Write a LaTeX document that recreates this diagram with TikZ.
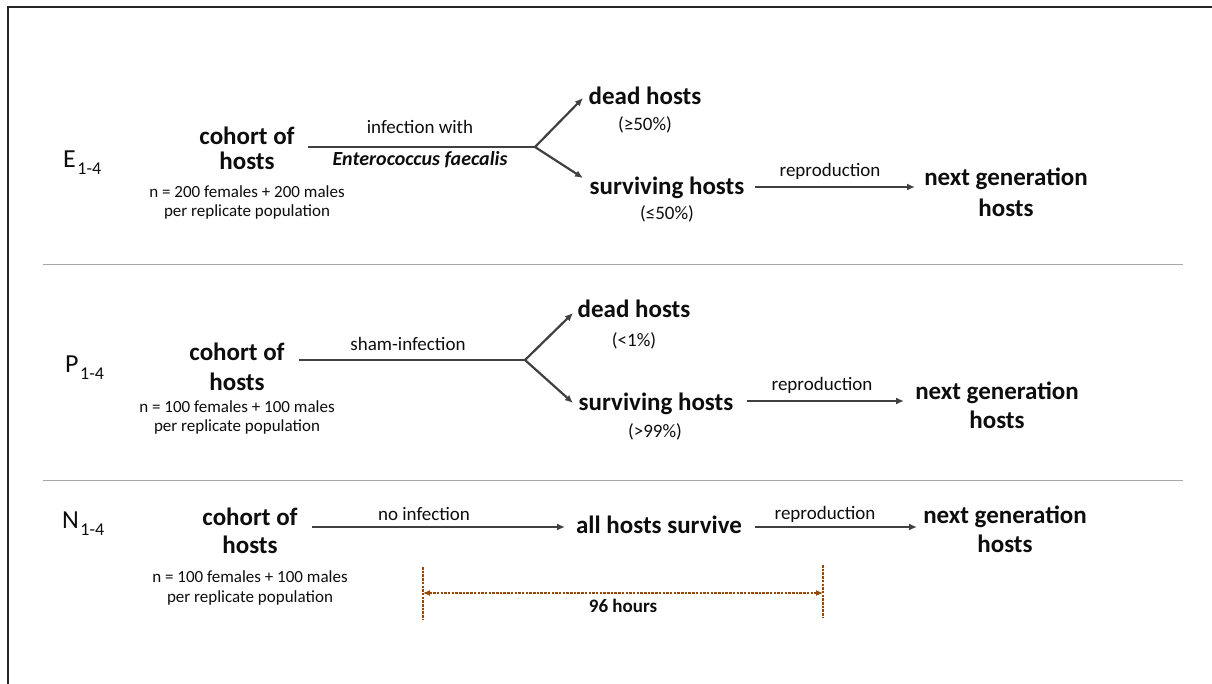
\documentclass[tikz,border=0pt]{standalone}
\usepackage{fontspec}
\setmainfont{Carlito}
\usetikzlibrary{arrows.meta}
\definecolor{arrowgrey}{HTML}{404040}
\definecolor{sepgrey}{HTML}{A6A6A6}
\definecolor{framegrey}{HTML}{262626}
\definecolor{txt}{HTML}{0D0D0D}
\definecolor{brownline}{RGB}{152,72,6}
\newcommand{\rowsub}[2]{#1\kern1.5pt\raisebox{-7pt}{\fontsize{18}{18}\selectfont #2}}
\begin{document}
\begin{tikzpicture}[x=1pt,y=-1pt,
  big/.style={font=\fontsize{25}{25}\selectfont\bfseries, anchor=base, inner sep=0pt, text=txt},
  small/.style={font=\fontsize{17}{17}\selectfont, anchor=base, inner sep=0pt, text=txt},
  lab/.style={font=\fontsize{19}{19}\selectfont, anchor=base, inner sep=0pt, text=txt},
  rowlab/.style={font=\fontsize{26}{26}\selectfont, anchor=base west, inner sep=0pt, text=txt},
  conn/.style={draw=arrowgrey, line width=2.2pt},
  arr/.style={conn, -{Latex[length=8pt,width=7pt]}},
  sep/.style={draw=sepgrey, line width=1pt},
  dimline/.style={draw=brownline, line width=1.1pt, dash pattern=on 2.5pt off 1.2pt},
  dimarr/.style={dimline, {Latex[length=7pt,width=6pt]}-{Latex[length=7pt,width=6pt]}}
]
\useasboundingbox (0,0) rectangle (1212,684);
% frame (only left and top edges visible)
\draw[framegrey, line width=2.4pt] (8,684) -- (8,7) -- (1212,7);
% separators
\coordinate (s1a) at (43,265); \coordinate (s1b) at (1183,265);
\coordinate (s2a) at (43,480); \coordinate (s2b) at (1183,480);
\draw[sep] (s1a) -- (s1b);
\draw[sep] (s2a) -- (s2b);

% ---------------- E row ----------------
\node[rowlab] (eLab) at (63,168) {\rowsub{E}{1-4}};
\node[big] (eCo) at (247,145) {cohort of};
\node[big] (eHo) at (247,170) {hosts};
\node[small] (eN) at (247,198) {n = 200 females + 200 males};
\node[small] (ePer) at (247,217) {per replicate population};
\coordinate (eS) at (308,147);
\coordinate (eJ) at (535,147);
\coordinate (eTD) at (583,98);
\coordinate (eTS) at (583,178);
\draw[conn] (eS) -- (eJ);
\draw[arr] (eJ) -- (eTD);
\draw[arr] (eJ) -- (eTS);
\node[lab] (eInf) at (420,134) {infection with};
\node[lab, font=\fontsize{20}{20}\selectfont\bfseries\itshape] (eEf) at (420,166) {Enterococcus faecalis};
\node[big] (eDead) at (645,105) {dead hosts};
\node[lab] (ePD) at (645,131) {(≥50\%)};
\node[big] (eSurv) at (667,195) {surviving hosts};
\node[lab] (ePS) at (667,220) {(≤50\%)};
\coordinate (eRS) at (755,187);
\coordinate (eRE) at (915,187);
\draw[arr] (eRS) -- (eRE);
\node[lab] (eRep) at (830,177) {reproduction};
\node[big] (eNext) at (1006,186) {next generation};
\node[big] (eNHo) at (1006,217) {hosts};

% ---------------- P row ----------------
\node[rowlab] (pLab) at (65,372) {\rowsub{P}{1-4}};
\node[big] (pCo) at (237,360) {cohort of};
\node[big] (pHo) at (237,390) {hosts};
\node[small] (pN) at (237,412) {n = 100 females + 100 males};
\node[small] (pPer) at (237,431) {per replicate population};
\coordinate (pS) at (299,360);
\coordinate (pJ) at (525,360);
\coordinate (pTD) at (573,313);
\coordinate (pTS) at (573,403);
\draw[conn] (pS) -- (pJ);
\draw[arr] (pJ) -- (pTD);
\draw[arr] (pJ) -- (pTS);
\node[lab] (pSham) at (408,350) {sham-infection};
\node[big] (pDead) at (634,318) {dead hosts};
\node[lab] (pPD) at (634,346) {(<1\%)};
\node[big] (pSurv) at (656,410) {surviving hosts};
\node[lab] (pPS) at (655,437) {(>99\%)};
\coordinate (pRS) at (747,401);
\coordinate (pRE) at (904,401);
\draw[arr] (pRS) -- (pRE);
\node[lab] (pRep) at (822,390) {reproduction};
\node[big] (pNext) at (997,399) {next generation};
\node[big] (pNHo) at (997,428) {hosts};

% ---------------- N row ----------------
\node[rowlab] (nLab) at (62,528) {\rowsub{N}{1-4}};
\node[big] (nCo) at (250,525) {cohort of};
\node[big] (nHo) at (250,553) {hosts};
\node[small] (nN) at (250,582) {n = 100 females + 100 males};
\node[small] (nPer) at (250,602) {per replicate population};
\coordinate (nS) at (312,527);
\coordinate (nE) at (565,527);
\draw[arr] (nS) -- (nE);
\node[lab] (nNo) at (424,520) {no infection};
\node[big] (nAll) at (659,533) {all hosts survive};
\coordinate (nRS) at (755,527);
\coordinate (nRE) at (917,527);
\draw[arr] (nRS) -- (nRE);
\node[lab] (nRep) at (825,519) {reproduction};
\node[big] (nNext) at (1005,523) {next generation};
\node[big] (nNHo) at (1005,552) {hosts};

% 96 hours
\coordinate (dLa) at (423,567); \coordinate (dLb) at (423,620);
\coordinate (dRa) at (823,565); \coordinate (dRb) at (823,618);
\coordinate (dL) at (423,593); \coordinate (dR) at (823,593);
\draw[dimline] (dLa) -- (dLb);
\draw[dimline] (dRa) -- (dRb);
\draw[dimarr] (dL) -- (dR);
\node[big, font=\fontsize{19}{19}\selectfont\bfseries] (dHrs) at (623,612) {96 hours};
\end{tikzpicture}
\end{document}
